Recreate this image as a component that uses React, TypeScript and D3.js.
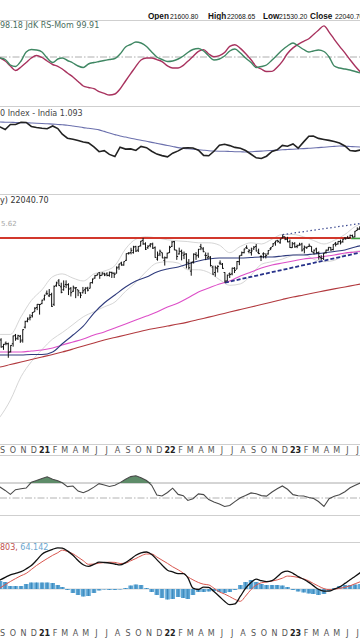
import React from "react";
import * as d3 from "d3";

// ---------- DATA ----------
// Weekly OHLC bars (weeks ending on Fridays, first week 2020-08-21)
const WEEK0 = "2020-08-21";
const OHLC: [number, number, number, number][] = [
  [11300,11460,11250,11372],[11400,11690,11390,11647],[11700,11795,11300,11333],[11350,11495,11185,11464],
  [11530,11620,11420,11505],[11500,11560,10790,11050],[11100,11430,11050,11417],[11500,11940,11350,11914],
  [11950,12025,11660,11762],[11800,11980,11700,11930],[11900,11970,11550,11642],[11700,12280,11560,12264],
  [12400,12770,12330,12720],[12750,12960,12680,12859],[12930,13145,12790,12969],[13060,13280,12960,13258],
  [13300,13580,13290,13514],[13560,13775,13400,13761],[13750,13780,13130,13749],[13800,14050,13770,14018],
  [14100,14370,14000,14347],[14470,14650,14360,14433],[14300,14750,14220,14372],[14380,14500,13600,13634],
  [13760,14990,13660,14924],[15000,15250,14900,15163],[15300,15430,14970,14982],[14900,15180,14470,14529],
  [14700,15340,14640,14938],[15060,15340,14810,15031],[15050,15140,14350,14744],[14800,14880,14260,14507],
  [14600,14980,14560,14867],[14800,14880,14150,14835],[14700,14700,14280,14618],[14500,14530,14150,14341],
  [14500,14890,14460,14631],[14700,14860,14420,14823],[14800,14900,14590,14677],[14800,15190,14790,15175],
  [15190,15470,15120,15436],[15500,15730,15460,15670],[15700,15830,15690,15799],[15900,15900,15450,15683],
  [15700,15915,15700,15860],[15800,15880,15640,15722],[15800,15915,15630,15690],[15700,15960,15600,15924],
  [15900,15960,15510,15856],[15850,15900,15510,15763],[15850,16350,15830,16238],[16300,16540,16100,16529],
  [16600,16700,16400,16450],[16450,16720,16400,16705],[16800,17340,16760,17324],[17350,17440,17250,17369],
  [17400,17790,17270,17585],[17400,17950,17330,17853],[17900,17950,17450,17532],[17600,17940,17450,17895],
  [17950,18350,17900,18338],[18400,18604,18030,18114],[18100,18240,17610,17672],[17800,18000,17700,17916],
  [18000,18170,17830,18102],[18100,18210,17700,17765],[17800,17900,17000,17026],[16900,17490,16780,17197],
  [17300,17640,17130,17511],[17400,17400,16970,16985],[16800,17100,16410,17004],[17000,17400,16950,17354],
  [17400,17950,17380,17812],[17900,18350,17850,18256],[18300,18350,17600,17617],[17600,17600,16840,17102],
  [17300,17800,17250,17516],[17500,17640,16800,17375],[17200,17490,16900,17276],[17300,17350,16200,16658],
  [16600,16900,16130,16245],[16000,16700,15670,16630],[16700,17340,16560,17287],[17250,17440,16840,17153],
  [17200,17700,17000,17670],[17900,18110,17600,17784],[17700,17840,17440,17476],[17200,17420,16820,17172],
  [17000,17400,16890,17103],[17000,17130,16340,16411],[16300,16400,15735,15782],[15900,16400,15600,16266],
  [16200,16420,15900,16352],[16600,16800,16450,16584],[16500,16600,16170,16202],[15900,15920,15183,15294],
  [15300,15750,15300,15699],[15800,15900,15510,15752],[15800,16250,15700,16221],[16200,16300,15860,16049],
  [16150,16750,16140,16719],[16700,17170,16440,17158],[17200,17490,17150,17398],[17400,17720,17350,17698],
  [17800,17990,17710,17758],[17500,17690,17350,17559],[17400,17800,17170,17539],[17700,17930,17620,17833],
  [17900,18100,17500,17531],[17400,17720,17290,17327],[17100,17200,16750,17094],[17300,17430,16960,17315],
  [17100,17350,16950,17186],[17300,17600,17250,17576],[17700,17840,17600,17787],[17900,18180,17900,18117],
  [18200,18360,17960,18350],[18400,18440,18210,18308],[18200,18530,18130,18512],[18600,18887,18580,18696],
  [18700,18700,18420,18497],[18500,18700,18250,18269],[18300,18470,17780,17807],[17800,18270,17780,18105],
  [18150,18250,17800,17859],[17900,18050,17760,17956],[18000,18200,17970,18027],[18100,18200,17490,17604],
  [17700,17970,17350,17854],[17800,17880,17700,17856],[17900,18130,17850,17944],[17900,17900,17460,17466],
  [17400,17650,17250,17594],[17700,17800,17320,17413],[17400,17500,16850,17100],[17000,17200,16830,16945],
  [16950,17380,16830,17360],[17430,17640,17320,17600],[17600,17840,17570,17828],[17800,17860,17550,17624],
  [17650,18090,17580,18065],[18150,18270,17900,18069],[18100,18330,18050,18315],[18300,18460,18060,18203],
  [18300,18530,18200,18499],[18600,18660,18460,18534],[18600,18780,18560,18563],[18600,18880,18570,18826],
  [18800,18890,18650,18665],[18700,19200,18650,19189],[19250,19520,19250,19332],[19400,19600,19300,19564],
];

// Monthly overlay values (1st of each month, Aug 2020 .. Aug 2023)
const MA50 = [10920,10928,10930,10930,10950,10950,11078,11500,11967,12460,13226,13842,14356,14886,15299,15577,15936,16156,16302,16526,16753,16907,16984,16984,16984,17022,17061,17061,17140,17218,17218,17297,17375,17493,17612,17856,18050];
const MA100 = [11050,11078,11078,11078,11129,11179,11281,11436,11594,11752,11967,12133,12354,12581,12811,13046,13284,13590,13842,14160,14556,14818,15087,15299,15650,15936,16230,16452,16601,16753,16907,16984,17101,17218,17375,17453,17550];
const MA200 = [10300,10347,10465,10584,10706,10829,10953,11078,11230,11385,11540,11700,11833,11967,12104,12241,12352,12464,12577,12691,12837,12983,13133,13284,13437,13590,13747,13905,14065,14225,14357,14489,14624,14759,14889,15020,15150];
const BB_UPPER = [11900,12000,12000,13000,14000,14700,15600,15800,15500,15300,15800,16000,16400,17700,18500,18700,18600,18450,18350,18300,18200,18200,18000,17400,17900,18200,18100,18500,18900,18900,18700,18400,18100,18400,18900,19600,20000];
const BB_LOWER = [7800,8250,8900,9900,10600,11200,11750,12100,12550,13000,13300,13600,13900,14600,15200,16000,16600,16700,16600,16100,16100,15900,15400,15000,15100,15700,16500,16700,16900,17200,17300,16900,16700,16800,17300,17500,17600];

// Annotations
const RESISTANCE = 18604;
const RESIST_END = "2023-06-19";
const TREND_LOW: [string, number][] = [["2022-06-17", 15183], ["2023-07-14", 17400]];
const TREND_HIGH: [string, number][] = [["2022-12-02", 18887], ["2023-07-14", 19860]];

// Indicator samples: 2020-08-16, then 1st and 16th of each month Sep 2020 .. Jul 2023
const JDK_MOM = [100.0,99.9,99.75,99.2,99.05,99.6,100.5,100.75,100.7,100.5,99.9,99.45,99.8,99.9,99.65,99.4,99.1,98.95,99.3,99.45,99.55,99.65,99.75,99.85,100.3,101.0,101.25,101.5,101.4,101.05,100.5,100.0,99.75,99.55,99.6,99.8,100.1,100.45,100.75,100.85,100.6,100.1,99.7,99.8,100.1,100.6,100.8,100.4,99.9,99.45,98.95,99.05,99.2,99.7,100.2,100.7,101.1,101.4,101.1,100.75,100.5,100.6,100.7,100.55,100.0,99.1,98.9,98.8,98.7,98.55,98.4];
const JDK_RATIO = [100.1,99.9,99.6,99.1,98.65,99.0,99.45,99.9,100.15,99.95,99.6,99.25,99.07,98.8,98.4,98.0,97.55,97.1,96.95,96.83,96.53,96.36,96.2,96.3,96.8,97.6,98.33,99.07,99.7,99.9,99.9,99.74,99.54,99.11,98.9,98.9,99.16,99.57,100.06,100.56,100.74,100.3,100.03,100.14,100.44,101.06,101.23,100.86,100.35,99.72,99.05,98.79,98.55,98.56,98.98,99.57,100.35,100.91,101.27,101.57,101.82,102.23,102.68,103.11,102.49,101.77,101.09,100.41,99.72,99.08,98.5];
const REL_LINE = [1.16,1.1575,1.1513,1.1638,1.1638,1.1693,1.1688,1.1588,1.1563,1.1545,1.1533,1.16,1.1535,1.1395,1.1295,1.1268,1.1238,1.1198,1.1178,1.1078,1.0958,1.0983,1.089,1.0835,1.107,1.1023,1.1028,1.0988,1.109,1.1058,1.097,1.0898,1.086,1.083,1.092,1.0978,1.1048,1.1058,1.105,1.0995,1.0865,1.0855,1.0968,1.112,1.1143,1.111,1.1065,1.1043,1.0988,1.0893,1.0805,1.0788,1.0845,1.0965,1.1005,1.1115,1.1093,1.115,1.1045,1.1203,1.1343,1.1348,1.129,1.1263,1.124,1.1213,1.1175,1.11,1.0988,1.0973,1.1];
const REL_MA = [1.17,1.17,1.1695,1.1693,1.1688,1.1685,1.168,1.1675,1.167,1.1663,1.1655,1.1648,1.1638,1.163,1.162,1.16,1.158,1.156,1.1543,1.1523,1.1503,1.1465,1.1425,1.1385,1.1348,1.1323,1.1295,1.127,1.1243,1.1218,1.119,1.1165,1.114,1.1113,1.1088,1.106,1.1043,1.103,1.102,1.1008,1.0995,1.0983,1.0975,1.097,1.0968,1.0963,1.0958,1.0955,1.095,1.0955,1.0965,1.0973,1.098,1.0988,1.0995,1.1005,1.1013,1.102,1.1028,1.1035,1.1043,1.105,1.106,1.107,1.108,1.109,1.11,1.1095,1.1088,1.108,1.1075];
const RSI = [66.0,64.5,60.1,54.8,61.1,62.4,63.3,70.9,73.2,76.1,78.3,75.1,73.1,70.4,65.2,65.9,59.3,57.1,60.1,64.5,69.2,67.3,65.3,66.9,70.5,75.1,78.5,79.7,77.1,73.3,66.9,54.0,52.7,57.3,63.1,54.8,53.1,46.8,49.1,55.5,54.5,47.9,44.8,42.1,38.7,40.1,45.2,50.4,53.3,56.8,55.6,53.2,52.5,58.0,62.3,66.0,61.6,54.5,53.1,52.7,50.7,49.5,45.3,38.7,49.1,52.4,54.4,58.4,63.7,66.9,70.0];
const MACD_LINE = [60,90,117,142,157,173,201,235,287,348,377,397,412,408,381,337,284,243,227,246,268,265,260,250,241,264,299,338,362,370,346,294,240,188,171,154,153,113,9,-5,19,16,-25,-74,-123,-157,-149,-72,6,66,98,83,73,84,122,166,179,157,124,97,66,34,-3,-22,-22,-2,20,56,93,128,164];
const MACD_SIGNAL = [-20,11,43,75,104,133,156,195,235,272,304,337,363,389,375,352,318,283,247,249,259,264,268,266,255,259,282,305,331,350,350,320,289,256,222,192,158,122,92,65,48,41,8,-29,-50,-76,-104,-123,-71,-5,40,62,70,80,91,108,129,125,116,101,81,56,29,4,-7,-2,6,17,32,53,73];
const MACD_HIST = [60,80,70,30,30,30,50,65,65,65,65,60,40,20,-10,-40,-60,-75,-70,-40,-15,-5,-10,-10,-5,10,35,45,40,10,-30,-60,-90,-105,-100,-80,-90,-100,-60,-30,-30,-25,-20,-30,-40,-30,-10,40,70,90,70,50,40,40,40,35,20,-10,-25,-35,-45,-50,-60,-50,-20,10,30,40,40,45,50];

const MONTH_LETTERS = ["J","F","M","A","M","J","J","A","S","O","N","D"];

// ---------- CHART ----------
const FONT = "'DejaVu Sans', Verdana, sans-serif";
const HFONT = "'Liberation Sans', Arial, sans-serif";

export default function App() {
  const parse = d3.timeParse("%Y-%m-%d");
  const x = d3.scaleTime().domain([new Date(2021, 0, 1), new Date(2023, 0, 1)]).range([42, 293]);

  const week0 = parse(WEEK0) as Date;
  const weekDates = OHLC.map((_, i) => d3.timeDay.offset(week0, 7 * i));
  const sampleDates: Date[] = [new Date(2020, 7, 16)];
  for (let m = 8; m <= 42; m++) sampleDates.push(new Date(2020, m, 1), new Date(2020, m, 16));
  const monthDates = d3.range(7, 44).map((m) => new Date(2020, m, 1));
  const axisMonths = d3.range(8, 43).map((m) => new Date(2020, m, 1));

  // y scales per panel
  const y1 = d3.scaleLinear().domain([96.3, 103.7]).range([94, 20]);
  const y2 = d3.scaleLinear().domain([0.99, 1.2075]).range([194, 107]);
  const py = d3.scaleLog().domain([7292, 22718]).range([444, 194]);
  const ry = d3.scaleLinear().domain([30, 70]).range([513, 483]);
  const my = d3.scaleLinear().domain([0, 400]).range([589, 549]);

  const line = (dates: Date[], vals: number[], ys: any, curve: any = d3.curveLinear) =>
    d3.line<number>().x((_, i) => x(dates[i])).y((v) => ys(v)).curve(curve)(vals) || "";

  const rsiFill = d3
    .area<number>()
    .x((_, i) => x(sampleDates[i]))
    .y0(ry(70))
    .y1((v) => ry(Math.max(v, 70)))(RSI) || "";

  const dashDot = "7,2,1.5,2";

  const axisLabels = (yBase: number, keyp: string) =>
    axisMonths.map((d, i) => {
      const isYear = d.getMonth() === 0;
      const label = isYear ? d3.timeFormat("%y")(d) : MONTH_LETTERS[d.getMonth()];
      return (
        <text key={keyp + i} x={x(d) + 2.5} y={yBase} textAnchor="middle" fontFamily={FONT}
          fontSize={8} fontWeight={isYear ? "bold" : "normal"} fill={isYear ? "#222" : "#555"}>
          {label}
        </text>
      );
    });

  return (
    <svg width={360} height={640} style={{ position: "absolute", left: 0, top: 0, display: "block", background: "#fff" }}>
      <defs>
        <clipPath id="c1"><rect x={0} y={20} width={360} height={86} /></clipPath>
        <clipPath id="c2"><rect x={0} y={107} width={360} height={87} /></clipPath>
        <clipPath id="c3"><rect x={0} y={194} width={360} height={250} /></clipPath>
        <clipPath id="c4"><rect x={0} y={456} width={360} height={59} /></clipPath>
        <clipPath id="c5"><rect x={0} y={542} width={360} height={84} /></clipPath>
      </defs>
      <rect x={0} y={0} width={360} height={640} fill="#fff" />

      {/* Header */}
      <g fontFamily={HFONT} fill="#111">
        <text x={148} y={18.5} fontSize={8.2} fontWeight="bold">Open</text>
        <text x={170} y={18.5} fontSize={6.8}>21600.80</text>
        <text x={208} y={18.5} fontSize={8.2} fontWeight="bold">High</text>
        <text x={227} y={18.5} fontSize={6.8}>22068.65</text>
        <text x={263} y={18.5} fontSize={8.2} fontWeight="bold">Low</text>
        <text x={279} y={18.5} fontSize={6.8}>21530.20</text>
        <text x={310} y={18.5} fontSize={8.2} fontWeight="bold">Close</text>
        <text x={335} y={18.5} fontSize={6.8}>22040.70</text>
      </g>

      {/* Panel borders */}
      <g stroke="#cfcfcf" strokeWidth={1}>
        <line x1={0} x2={360} y1={20.5} y2={20.5} />
        <line x1={0} x2={360} y1={106.5} y2={106.5} />
        <line x1={0} x2={360} y1={194.5} y2={194.5} />
        <line x1={0} x2={360} y1={444.5} y2={444.5} />
        <line x1={0} x2={360} y1={455.5} y2={455.5} />
        <line x1={0} x2={360} y1={515.5} y2={515.5} />
        <line x1={0} x2={360} y1={542.5} y2={542.5} />
      </g>

      {/* Panel 1: JdK RS */}
      <g clipPath="url(#c1)">
        <line x1={0} x2={360} y1={y1(100)} y2={y1(100)} stroke="#9a9a9a" strokeDasharray={dashDot} strokeWidth={0.8} />
        <path d={line(sampleDates, JDK_RATIO, y1, d3.curveMonotoneX)} fill="none" stroke="#a8325e" strokeWidth={1.4} />
        <path d={line(sampleDates, JDK_MOM, y1, d3.curveMonotoneX)} fill="none" stroke="#3f8763" strokeWidth={1.4} />
      </g>
      <text x={0} y={28} fontFamily={FONT} fontSize={8} fill="#4a6e5e">98.18 JdK RS-Mom 99.91</text>

      {/* Panel 2: relative to index */}
      <g clipPath="url(#c2)">
        <path d={line(sampleDates, REL_MA, y2, d3.curveMonotoneX)} fill="none" stroke="#6b70ad" strokeWidth={1.1} />
        <path d={line(sampleDates, REL_LINE, y2)} fill="none" stroke="#222" strokeWidth={1.6} />
      </g>
      <text x={0} y={116} fontFamily={FONT} fontSize={8} fill="#444">0 Index - India 1.093</text>

      {/* Panel 3: price */}
      <g clipPath="url(#c3)">
        <path d={line(monthDates, BB_UPPER, py, d3.curveMonotoneX)} fill="none" stroke="#d6d6d6" strokeWidth={1} />
        <path d={line(monthDates, BB_LOWER, py, d3.curveMonotoneX)} fill="none" stroke="#d6d6d6" strokeWidth={1} />
        <path d={line(monthDates, MA200, py, d3.curveMonotoneX)} fill="none" stroke="#b23a3f" strokeWidth={1.1} />
        <path d={line(monthDates, MA100, py, d3.curveMonotoneX)} fill="none" stroke="#dd4fc8" strokeWidth={1.1} />
        <path d={line(monthDates, MA50, py, d3.curveMonotoneX)} fill="none" stroke="#2e3a7c" strokeWidth={1.1} />
        <line x1={0} x2={x(parse(RESIST_END) as Date)} y1={py(RESISTANCE)} y2={py(RESISTANCE)} stroke="#d2382c" strokeWidth={2} />
        <line x1={x(parse(RESIST_END) as Date)} x2={362} y1={py(RESISTANCE) + 0.5} y2={py(RESISTANCE) + 0.5} stroke="#3a9c3a" strokeWidth={1.6} />
        <line x1={x(parse(TREND_LOW[0][0]) as Date)} x2={x(parse(TREND_LOW[1][0]) as Date)}
          y1={py(TREND_LOW[0][1])} y2={py(TREND_LOW[1][1])} stroke="#27318a" strokeWidth={1.8} strokeDasharray="4,2" />
        <line x1={x(parse(TREND_HIGH[0][0]) as Date)} x2={x(parse(TREND_HIGH[1][0]) as Date)}
          y1={py(TREND_HIGH[0][1])} y2={py(TREND_HIGH[1][1])} stroke="#3b4890" strokeWidth={1.2} strokeDasharray="1.5,2.5" />
        <g stroke="#111" strokeWidth={1}>
          {OHLC.map((d, i) => {
            const cx = x(weekDates[i]);
            return (
              <g key={i}>
                <line x1={cx} x2={cx} y1={py(d[1])} y2={py(d[2])} />
                <line x1={cx - 1.3} x2={cx} y1={py(d[0])} y2={py(d[0])} />
                <line x1={cx} x2={cx + 1.3} y1={py(d[3])} y2={py(d[3])} />
              </g>
            );
          })}
        </g>
      </g>
      <text x={0} y={203} fontFamily={FONT} fontSize={8} fill="#333">y) 22040.70</text>
      <text x={1} y={226} fontFamily={FONT} fontSize={7} fill="#a8a8a8">5.62</text>

      {/* Middle axis */}
      {axisLabels(453, "a")}

      {/* Panel 4: RSI */}
      <g clipPath="url(#c4)">
        <line x1={0} x2={360} y1={ry(70)} y2={ry(70)} stroke="#a0a0a0" strokeWidth={0.9} />
        <line x1={0} x2={360} y1={ry(50)} y2={ry(50)} stroke="#a0a0a0" strokeWidth={0.8} strokeDasharray={dashDot} />
        <path d={rsiFill} fill="#5e8c69" stroke="none" />
        <path d={line(sampleDates, RSI, ry)} fill="none" stroke="#4a4a4a" strokeWidth={1.1} />
      </g>

      {/* Panel 5: MACD */}
      <g clipPath="url(#c5)">
        <line x1={0} x2={360} y1={my(0)} y2={my(0)} stroke="#c8c8c8" strokeWidth={0.8} />
        {MACD_HIST.map((v, i) => {
          const cx = x(sampleDates[i]);
          const y0 = my(0), yv = my(v);
          return (
            <g key={i}>
              <rect x={cx - 2.3} width={4.6} y={Math.min(y0, yv)} height={Math.abs(yv - y0)} fill="#5ea7d6" />
              <line x1={cx} x2={cx} y1={y0} y2={yv} stroke="#2c78ad" strokeWidth={0.7} />
            </g>
          );
        })}
        <path d={line(sampleDates, MACD_SIGNAL, my, d3.curveMonotoneX)} fill="none" stroke="#d9574f" strokeWidth={1} />
        <path d={line(sampleDates, MACD_LINE, my, d3.curveMonotoneX)} fill="none" stroke="#111" strokeWidth={1.3} />
      </g>
      <text x={0} y={550} fontFamily={FONT} fontSize={8}>
        <tspan fill="#c0504d">803, </tspan>
        <tspan fill="#6aa6cf">64.142</tspan>
      </text>

      {/* Bottom axis */}
      {axisLabels(636, "b")}
    </svg>
  );
}
